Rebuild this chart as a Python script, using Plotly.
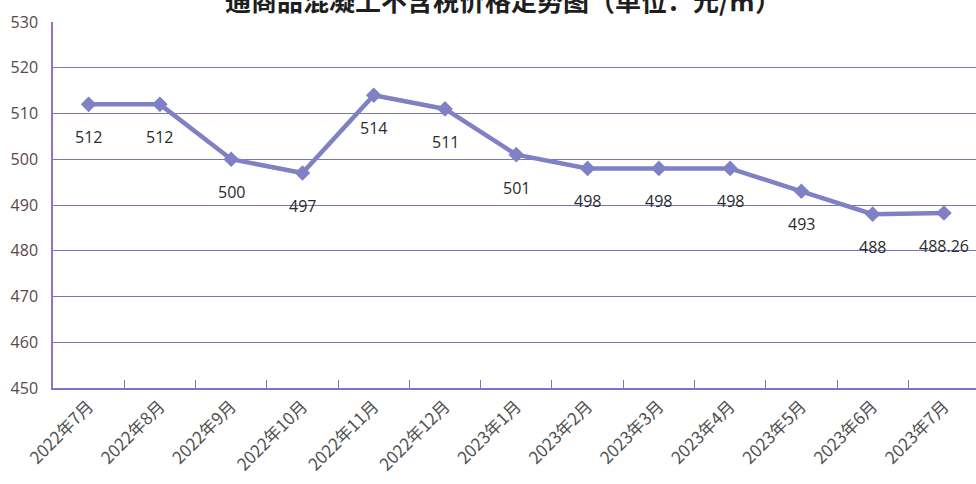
import plotly.graph_objs as go

# 普通商品混凝土不含税价格 (元/m³)
months = ['2022年7月', '2022年8月', '2022年9月', '2022年10月', '2022年11月', '2022年12月',
          '2023年1月', '2023年2月', '2023年3月', '2023年4月', '2023年5月', '2023年6月', '2023年7月']
prices = [512, 512, 500, 497, 514, 511, 501, 498, 498, 498, 493, 488, 488.26]
price_labels = ['512', '512', '500', '497', '514', '511', '501', '498', '498', '498', '493', '488', '488.26']
y_ticks = [450, 460, 470, 480, 490, 500, 510, 520, 530]

title = '通商品混凝土不含税价格走势图（单位：元/㎡）'

line_color = 'rgb(128,128,196)'
grid_color = 'rgb(120,118,196)'

fig = go.Figure()
fig.add_trace(go.Scatter(
    x=months, y=prices,
    mode='lines+markers',
    line=dict(color=line_color, width=4.5),
    marker=dict(symbol='diamond', size=12, color=line_color),
    showlegend=False,
))

# value labels below each point
for m, p, t in zip(months, prices, price_labels):
    fig.add_annotation(x=m, y=p, text=t, showarrow=False, yshift=-33,
                       font=dict(family='Open Sans, Noto Sans', size=16, color='#2b2b2b'))

# title is cropped at the top edge in the original scan
fig.add_annotation(xref='paper', yref='paper', x=0.4875, y=1, yanchor='middle', yshift=23,
                   text='<b>' + title + '</b>', showarrow=False,
                   font=dict(family='Noto Sans CJK SC', size=26, color='#1e1e1e'))

fig.update_xaxes(range=[-0.5, 12.45], showline=True, linecolor=grid_color, linewidth=1.5,
                 ticks='inside', tickson='boundaries', ticklen=8, tickcolor=grid_color,
                 tickangle=-45, showgrid=False, automargin=False,
                 tickfont=dict(family='Noto Sans CJK SC', size=17, color='#505050'))
fig.update_yaxes(range=[450, 530], tickvals=y_ticks, showline=True, linecolor='rgb(160,110,190)',
                 linewidth=1.5, gridcolor=grid_color, gridwidth=1, zeroline=False,
                 ticks='', ticklabelstandoff=10, automargin=False,
                 tickfont=dict(family='Open Sans, Noto Sans', size=16, color='#5a4848'))
fig.update_layout(width=976, height=484,
                  margin=dict(l=53, r=0, t=22, b=96),
                  paper_bgcolor='white', plot_bgcolor='white')

fig.write_html("out.html", config={'displayModeBar': False},
               post_script="document.body.style.margin='0';")
